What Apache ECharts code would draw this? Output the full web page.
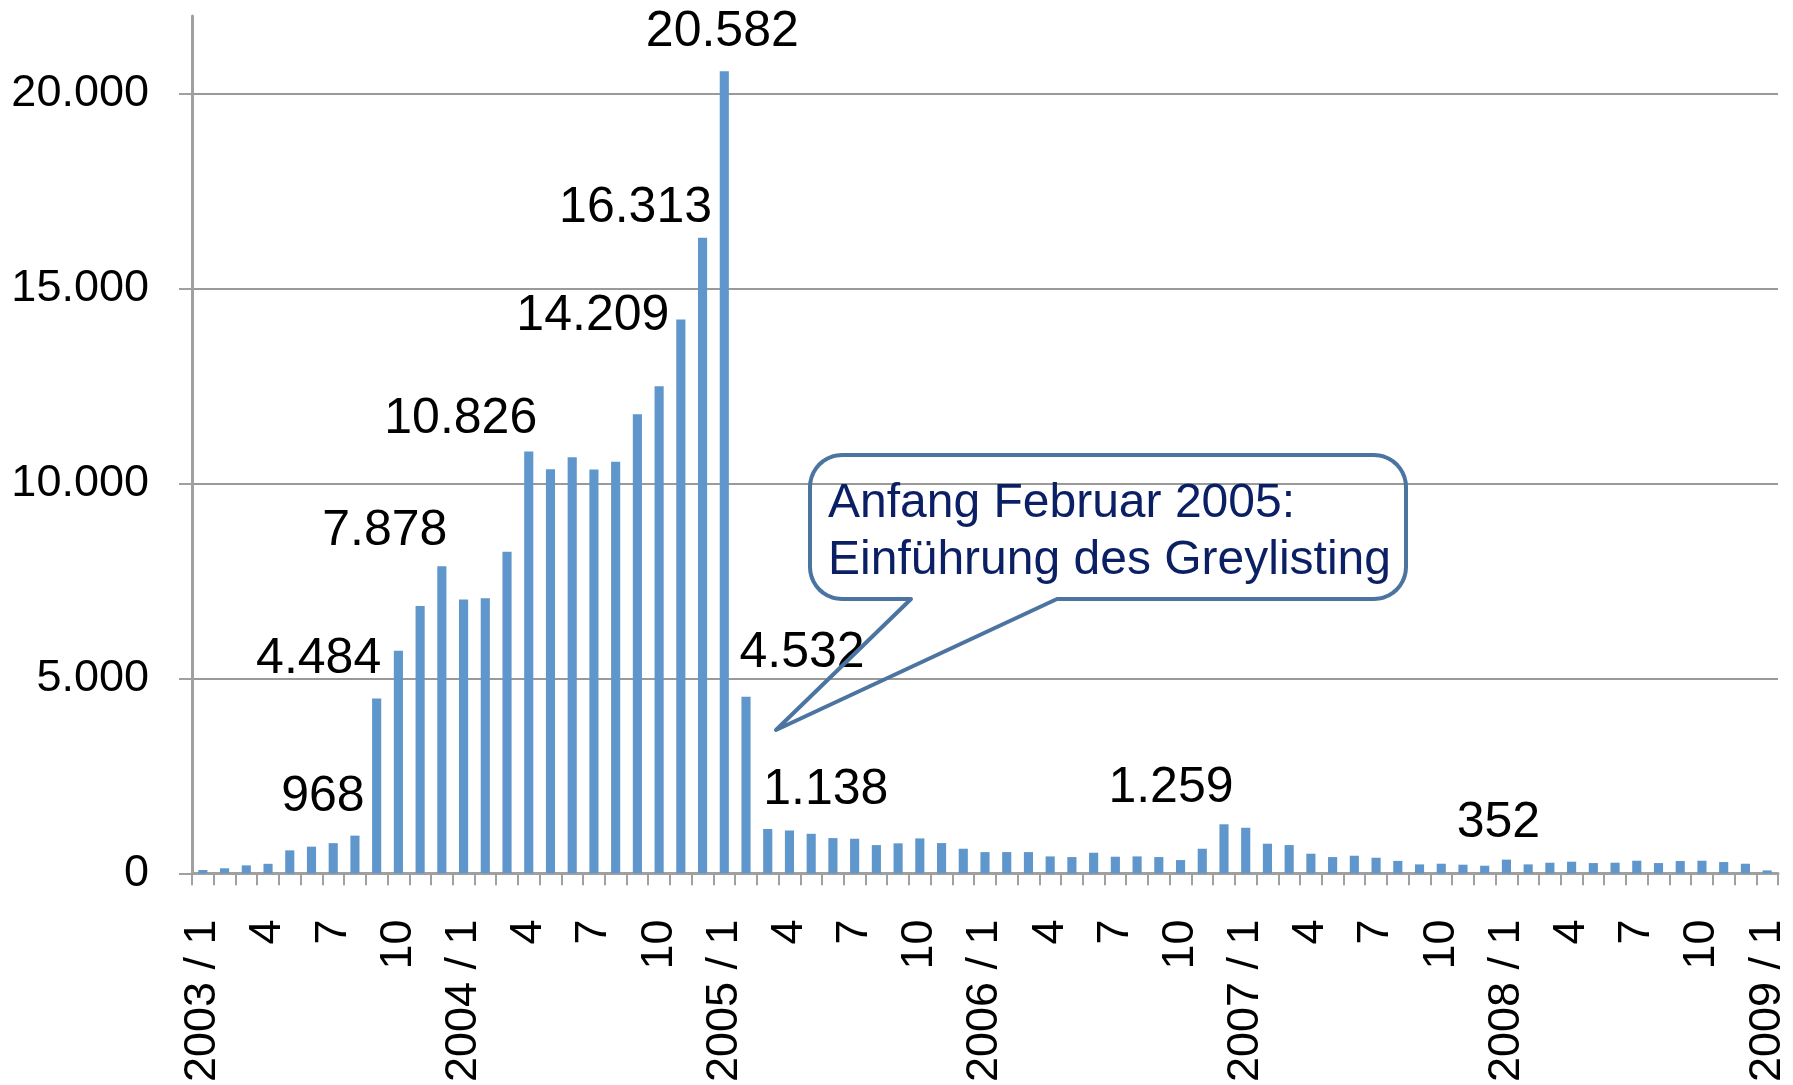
<!DOCTYPE html>
<html>
<head>
<meta charset="utf-8">
<script src="https://cdn.jsdelivr.net/npm/echarts@6/dist/echarts.min.js"></script>
<style>
  html, body { margin: 0; padding: 0; background: #ffffff; }
  #chart { width: 1793px; height: 1085px; }
</style>
</head>
<body>
<div id="chart"></div>
<script>
// Monthly categories 2003/1 .. 2009/1
const categories = [
  '2003 / 1','2','3','4','5','6','7','8','9','10','11','12',
  '2004 / 1','2','3','4','5','6','7','8','9','10','11','12',
  '2005 / 1','2','3','4','5','6','7','8','9','10','11','12',
  '2006 / 1','2','3','4','5','6','7','8','9','10','11','12',
  '2007 / 1','2','3','4','5','6','7','8','9','10','11','12',
  '2008 / 1','2','3','4','5','6','7','8','9','10','11','12',
  '2009 / 1'
];

const values2003 = [85, 130, 205, 245, 590, 685, 775, 968, 4484, 5715, 6860, 7878];
const values2004 = [7030, 7060, 8250, 10826, 10370, 10680, 10360, 10560, 11780, 12500, 14209, 16313];
const values2005 = [20582, 4532, 1138, 1100, 1015, 905, 888, 725, 770, 897, 777, 632];
const values2006 = [545, 546, 546, 435, 418, 529, 427, 435, 418, 341, 632, 1259];
const values2007 = [1170, 760, 726, 504, 418, 452, 401, 320, 230, 247, 222, 196];
const values2008 = [352, 230, 273, 299, 264, 273, 324, 264, 316, 324, 290, 247];
const values2009 = [76];

// indices of bars carrying a value label
const labeledIdx = [7, 8, 11, 15, 22, 23, 24, 25, 26, 47, 60];

const calloutLines = ['Anfang Februar 2005:', 'Einführung des Greylisting'];

const values = [].concat(values2003, values2004, values2005, values2006, values2007, values2008, values2009);

// label placement (layout only)
const labelOffsets = {
  7: [-32, -8], 8: [-58, -9], 11: [-57, -5], 15: [-68, -2], 22: [-88, 27],
  23: [-67, 1], 24: [-2, -9], 25: [56, -14], 26: [58, -9], 47: [-53, -6], 60: [-8, -6]
};

function fmt(v) {
  return String(v).replace(/\B(?=(\d{3})+(?!\d))/g, '.');
}

const FONT = '"Liberation Sans", Arial, Helvetica, sans-serif';
const GRAY = '#a0a0a0';

const seriesData = values.map(function (v, i) {
  if (labeledIdx.indexOf(i) >= 0) {
    return { value: v, label: { show: true, offset: labelOffsets[i] } };
  }
  return v;
});

// callout bubble outline (decoration): rounded box with a tail
function bubblePoints(x0, y0, x1, y1, r, tailA, tip, tailB) {
  const pts = [];
  function arc(cx, cy, a0, a1) {
    const n = 10;
    for (let k = 0; k <= n; k++) {
      const a = a0 + (a1 - a0) * k / n;
      pts.push([cx + r * Math.cos(a), cy + r * Math.sin(a)]);
    }
  }
  arc(x0 + r, y0 + r, Math.PI, 1.5 * Math.PI);        // top-left
  arc(x1 - r, y0 + r, 1.5 * Math.PI, 2 * Math.PI);    // top-right
  arc(x1 - r, y1 - r, 0, 0.5 * Math.PI);              // bottom-right
  pts.push([tailB, y1]);
  pts.push(tip);
  pts.push([tailA, y1]);
  arc(x0 + r, y1 - r, 0.5 * Math.PI, Math.PI);        // bottom-left
  return pts;
}

const chart = echarts.init(document.getElementById('chart'), null, { renderer: 'canvas' });

chart.setOption({
  animation: false,
  backgroundColor: '#ffffff',
  grid: { left: 192, right: 15, top: 16, bottom: 207, containLabel: false },
  xAxis: {
    type: 'category',
    data: categories,
    boundaryGap: true,
    axisLine: { show: true, lineStyle: { color: GRAY, width: 3 } },
    axisTick: { show: true, interval: 0, length: 12, lineStyle: { color: GRAY, width: 2 } },
    axisLabel: {
      interval: 2,
      rotate: 90,
      margin: 46,
      color: '#000000',
      fontFamily: FONT,
      fontSize: 45
    },
    splitLine: { show: false }
  },
  yAxis: {
    type: 'value',
    min: 0,
    max: 22000,
    interval: 5000,
    axisLine: { show: true, lineStyle: { color: GRAY, width: 3 } },
    axisTick: { show: true, length: 13, lineStyle: { color: GRAY, width: 2 } },
    axisLabel: {
      showMaxLabel: false,
      margin: 43,
      color: '#000000',
      fontFamily: FONT,
      fontSize: 45,
      formatter: function (v) { return v > 20000 ? '' : fmt(v); }
    },
    splitLine: { show: true, showMinLine: false, showMaxLine: false, lineStyle: { color: '#9a9a9a', width: 2 } }
  },
  series: [{
    type: 'bar',
    data: seriesData,
    barWidth: '42%',
    itemStyle: { color: '#5f96cb' },
    label: {
      show: false,
      position: 'top',
      color: '#000000',
      fontFamily: FONT,
      fontSize: 50,
      formatter: function (p) { return fmt(p.value); }
    }
  }],
  graphic: [
    {
      type: 'polygon',
      shape: { points: bubblePoints(810, 455, 1406, 599, 32, 911, [776, 730], 1057) },
      style: { fill: 'none', stroke: '#4b74a1', lineWidth: 4, lineJoin: 'round' },
      z: 100
    },
    {
      type: 'text',
      x: 828,
      y: 475,
      style: {
        text: calloutLines.join('\n'),
        fill: '#0b1f65',
        font: '48px ' + FONT,
        lineHeight: 57,
        verticalAlign: 'top',
        align: 'left'
      },
      z: 101
    }
  ]
});
</script>
</body>
</html>
